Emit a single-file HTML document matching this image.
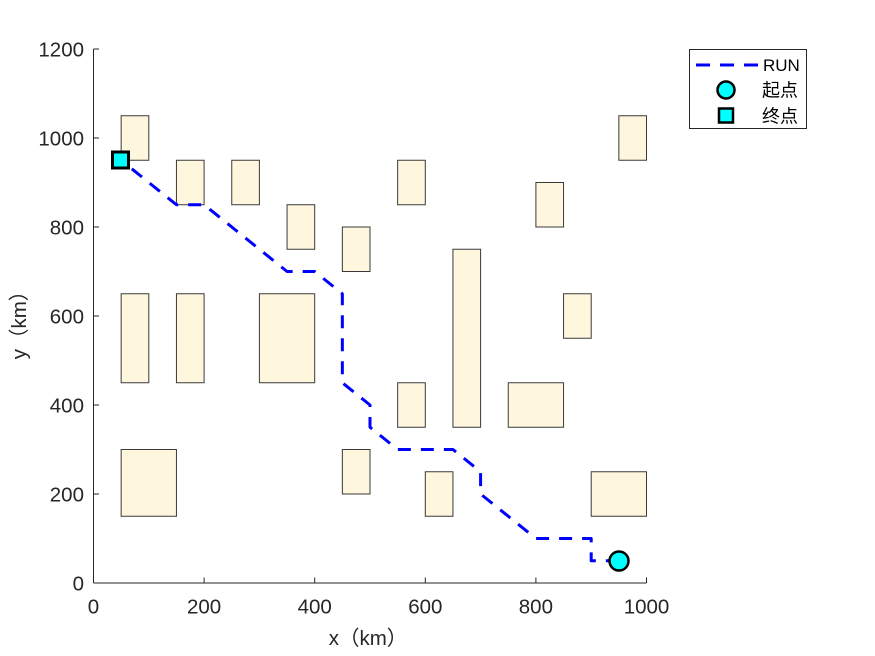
<!DOCTYPE html>
<html>
<head>
<meta charset="utf-8">
<style>
html,body{margin:0;padding:0;background:#fff;}
svg{display:block;}
text{font-family:"Liberation Sans","Noto Sans CJK SC",sans-serif;fill:#262626;}
</style>
</head>
<body>
<svg width="875" height="656" viewBox="0 0 875 656" xmlns="http://www.w3.org/2000/svg">
<rect x="0" y="0" width="875" height="656" fill="#fff"/>
<!-- obstacles -->
<g fill="#FFF6DE" stroke="#3a3a3a" stroke-width="1">
<rect x="121.15" y="115.75" width="27.65" height="44.5"/>
<rect x="176.45" y="160.25" width="27.65" height="44.5"/>
<rect x="231.75" y="160.25" width="27.65" height="44.5"/>
<rect x="287.05" y="204.75" width="27.65" height="44.5"/>
<rect x="342.35" y="227" width="27.65" height="44.5"/>
<rect x="397.65" y="160.25" width="27.65" height="44.5"/>
<rect x="535.9" y="182.5" width="27.65" height="44.5"/>
<rect x="618.85" y="115.75" width="27.65" height="44.5"/>
<rect x="121.15" y="293.75" width="27.65" height="89"/>
<rect x="176.45" y="293.75" width="27.65" height="89"/>
<rect x="259.4" y="293.75" width="55.3" height="89"/>
<rect x="452.95" y="249.25" width="27.65" height="178"/>
<rect x="563.55" y="293.75" width="27.65" height="44.5"/>
<rect x="397.65" y="382.75" width="27.65" height="44.5"/>
<rect x="508.25" y="382.75" width="55.3" height="44.5"/>
<rect x="121.15" y="449.5" width="55.3" height="66.75"/>
<rect x="342.35" y="449.5" width="27.65" height="44.5"/>
<rect x="425.3" y="471.75" width="27.65" height="44.5"/>
<rect x="591.2" y="471.75" width="55.3" height="44.5"/>
</g>
<!-- axes -->
<g stroke="#262626" stroke-width="1" fill="none">
<line x1="93.5" y1="583" x2="646.5" y2="583"/>
<line x1="93.5" y1="583" x2="93.5" y2="49"/>
<line x1="93.5" y1="583" x2="93.5" y2="577.5"/>
<line x1="204.1" y1="583" x2="204.1" y2="577.5"/>
<line x1="314.7" y1="583" x2="314.7" y2="577.5"/>
<line x1="425.3" y1="583" x2="425.3" y2="577.5"/>
<line x1="535.9" y1="583" x2="535.9" y2="577.5"/>
<line x1="646.5" y1="583" x2="646.5" y2="577.5"/>
<line x1="93.5" y1="583" x2="99" y2="583"/>
<line x1="93.5" y1="494" x2="99" y2="494"/>
<line x1="93.5" y1="405" x2="99" y2="405"/>
<line x1="93.5" y1="316" x2="99" y2="316"/>
<line x1="93.5" y1="227" x2="99" y2="227"/>
<line x1="93.5" y1="138" x2="99" y2="138"/>
<line x1="93.5" y1="49" x2="99" y2="49"/>
</g>
<!-- tick labels -->
<g font-size="20.5" text-anchor="middle">
<text x="93.5" y="613.5">0</text>
<text x="204.1" y="613.5">200</text>
<text x="314.7" y="613.5">400</text>
<text x="425.3" y="613.5">600</text>
<text x="535.9" y="613.5">800</text>
<text x="646.5" y="613.5">1000</text>
</g>
<g font-size="20.5" text-anchor="end">
<text x="84" y="590.5">0</text>
<text x="84" y="501.5">200</text>
<text x="84" y="412.5">400</text>
<text x="84" y="323.5">600</text>
<text x="84" y="234.5">800</text>
<text x="84" y="145.5">1000</text>
<text x="84" y="56.5">1200</text>
</g>
<text x="368" y="645" font-size="20.5" text-anchor="middle">x（km）</text>
<text transform="translate(26,320) rotate(-90)" font-size="20.5" text-anchor="middle">y（km）</text>
<!-- path -->
<polyline fill="none" stroke="#0000FF" stroke-width="3" stroke-dasharray="13 10" stroke-linejoin="round"
points="618.85,560.75 591.2,560.75 591.2,538.5 535.9,538.5 480.6,494 480.6,471.75 452.95,449.5 397.65,449.5 370,427.25 370,405 342.35,382.75 342.35,293.75 314.7,271.5 287.05,271.5 204.1,204.75 176.45,204.75 121.15,160.25"/>
<!-- markers -->
<circle cx="619" cy="561" r="9.5" fill="#00FFFF" stroke="#000" stroke-width="2.5"/>
<rect x="112.5" y="152" width="16" height="16" fill="#00FFFF" stroke="#000" stroke-width="3"/>
<!-- legend -->
<rect x="689.5" y="49.5" width="117" height="79" fill="#fff" stroke="#262626" stroke-width="1"/>
<line x1="696" y1="65" x2="758" y2="65" stroke="#0000FF" stroke-width="3" stroke-dasharray="14 10"/>
<text x="763" y="71" font-size="17" style="fill:#000">RUN</text>
<circle cx="726" cy="90" r="8.5" fill="#00FFFF" stroke="#000" stroke-width="2.5"/>
<text x="762" y="96.5" font-size="18" style="fill:#000">起点</text>
<rect x="719" y="108.5" width="14" height="14" fill="#00FFFF" stroke="#000" stroke-width="2.5"/>
<text x="762" y="122.5" font-size="18" style="fill:#000">终点</text>
</svg>
</body>
</html>
